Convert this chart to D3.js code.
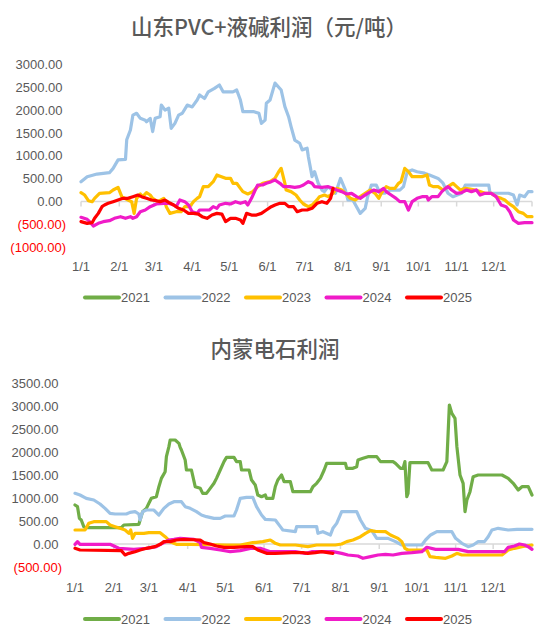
<!DOCTYPE html>
<html><head><meta charset="utf-8">
<script src="https://cdn.jsdelivr.net/npm/d3@7"></script>
<style>
html,body{margin:0;padding:0;background:#fff;}
svg{display:block;}
</style></head>
<body>
<svg id="c" width="550" height="642"></svg>
<script>
// ---------- data ----------
const years = ["2021","2022","2023","2024","2025"];
const colors = ["#70AD47","#9DC3E6","#FFC000","#F01BC8","#FF0000"];
const monthLabels = ["1/1","2/1","3/1","4/1","5/1","6/1","7/1","8/1","9/1","10/1","11/1","12/1"];
const monthDays = [0,31,59,90,120,151,181,212,243,273,304,334];
const title1 = "山东PVC+液碱利润（元/吨）";
const title2 = "内蒙电石利润";
const yTicks1 = [3000,2500,2000,1500,1000,500,0,-500,-1000];
const yTicks2 = [3500,3000,2500,2000,1500,1000,500,0,-500];

// [day of year, value]
const sd2021 = [];
const sd2022 = [[0,430],[5,540],[13,600],[23,630],[26,725],[30,910],[36,920],[37,1350],[40,1565],[42,1890],[45,1930],[48,1820],[52,1780],[53,1745],[56,1820],[58,1530],[60,1820],[64,1855],[65,2110],[68,2000],[71,2040],[73,1600],[76,1710],[79,1890],[82,1930],[86,2110],[90,2070],[94,2220],[96,2330],[100,2255],[103,2400],[108,2475],[112,2550],[115,2400],[123,2400],[126,2440],[129,2220],[131,1965],[140,1965],[144,1930],[146,1710],[149,1780],[150,2150],[153,2220],[157,2590],[162,2440],[165,2075],[168,1855],[170,1640],[173,1345],[177,1275],[179,1130],[183,1165],[184,980],[187,545],[189,655],[192,400],[195,250],[197,215],[200,325],[206,180],[210,505],[214,250],[216,35],[220,35],[223,-115],[226,-260],[230,-150],[232,105],[235,360],[239,360],[242,180],[246,180],[250,250],[258,250],[261,325],[264,650],[268,690],[272,650],[278,620],[282,580],[289,505],[293,400],[297,180],[301,105],[308,180],[311,360],[330,360],[331,180],[346,180],[350,140],[353,-75],[355,140],[359,105],[362,215],[365,215]];
const sd2023 = [[0,193],[3,142],[6,18],[9,-4],[11,69],[15,179],[23,193],[26,252],[30,310],[33,106],[38,33],[41,-4],[43,-260],[45,69],[48,164],[50,106],[53,193],[56,142],[58,69],[62,-4],[67,69],[69,-113],[72,-260],[77,-223],[81,-223],[84,-113],[88,-113],[91,-4],[94,69],[96,106],[99,325],[103,325],[107,434],[110,580],[112,560],[117,507],[121,507],[123,398],[126,398],[129,288],[131,216],[135,164],[139,216],[143,325],[147,398],[153,434],[157,507],[160,653],[162,726],[165,398],[166,252],[170,216],[174,142],[177,33],[180,-55],[184,-113],[187,-77],[191,33],[193,106],[197,142],[200,106],[204,179],[207,288],[211,252],[214,179],[218,69],[222,33],[226,106],[230,179],[234,252],[238,179],[241,69],[243,179],[247,325],[250,288],[254,288],[257,398],[259,434],[262,726],[265,653],[268,543],[276,543],[280,580],[282,361],[285,325],[289,325],[293,252],[297,325],[301,398],[304,325],[307,252],[311,288],[315,270],[319,252],[323,216],[327,179],[332,179],[336,106],[340,69],[343,33],[346,-40],[350,-113],[354,-223],[358,-260],[361,-332],[365,-332]];
const sd2024 = [[0,-346],[5,-390],[7,-441],[10,-536],[14,-478],[18,-441],[23,-420],[27,-368],[32,-332],[36,-368],[40,-332],[42,-368],[45,-332],[48,-223],[52,-186],[56,-113],[61,-55],[67,-40],[71,-40],[75,-77],[77,-113],[80,33],[84,-4],[87,-77],[90,-223],[94,-260],[96,-186],[104,-186],[107,-113],[110,-150],[112,-77],[117,-40],[121,-55],[125,-4],[129,-40],[133,-4],[135,-77],[138,69],[141,252],[143,361],[147,361],[150,398],[154,434],[157,471],[161,398],[164,325],[169,325],[173,310],[177,325],[180,361],[184,434],[187,398],[189,325],[195,310],[200,325],[204,288],[207,252],[211,216],[215,164],[219,179],[223,106],[226,69],[228,106],[232,179],[237,252],[241,216],[245,288],[247,216],[251,142],[255,69],[258,-4],[262,-4],[265,-186],[268,-4],[272,69],[276,106],[280,106],[281,33],[284,106],[289,106],[292,216],[295,288],[297,325],[300,252],[304,179],[308,193],[312,252],[316,216],[320,252],[323,142],[327,179],[332,179],[336,106],[340,-77],[344,-113],[347,-223],[350,-405],[354,-478],[359,-464],[365,-464]];
const sd2025 = [[0,-441],[5,-478],[9,-464],[11,-368],[14,-260],[17,-113],[19,-77],[22,-40],[26,-4],[30,33],[34,69],[38,69],[42,106],[46,142],[49,106],[53,69],[57,33],[61,18],[64,-4],[68,33],[71,-20],[75,-77],[79,-150],[83,-186],[87,-260],[91,-260],[95,-275],[98,-332],[102,-368],[106,-296],[110,-260],[114,-275],[117,-441],[121,-368],[125,-368],[129,-405],[131,-478],[134,-260],[138,-296],[142,-296],[146,-260],[150,-186],[154,-113],[157,-77],[161,-40],[165,-40],[168,-113],[172,-113],[175,-223],[179,-186],[183,-186],[187,-150],[191,-40],[195,-4],[199,-40],[202,69],[204,288]];

const nm2021 = [[0,848],[2,812],[3.5,558],[5,522],[7,377],[9,355],[37,355],[39,413],[51,428],[52,522],[54,703],[57,775],[59,884],[61,993],[65,1029],[67,1246],[69,1427],[72,1572],[73,1898],[75,2116],[76,2261],[80,2261],[83,2188],[84,2101],[85,2043],[88,1826],[89,1609],[93,1609],[96,1246],[100,1210],[102,1101],[105,1101],[108,1210],[111,1319],[113,1427],[116,1609],[119,1790],[121,1884],[127,1884],[129,1790],[132,1790],[133,1609],[139,1609],[141,1391],[144,1282],[146,1065],[149,1029],[152,1065],[153,993],[158,993],[160,1250],[162,1391],[165,1500],[167,1355],[172,1355],[174,1137],[188,1137],[190,1246],[193,1319],[196,1427],[199,1609],[201,1754],[216,1754],[217,1645],[222,1645],[225,1680],[226,1826],[230,1862],[234,1899],[241,1899],[244,1790],[254,1790],[256,1754],[260,1645],[262,1645],[263.5,1790],[265,1029],[266,1100],[267.5,1768],[282,1768],[285,1609],[294,1609],[297,1790],[299,3022],[301,2840],[303.5,2732],[305,2116],[307.5,1500],[310,1319],[311.5,703],[313,957],[315.5,1137],[318,1464],[322,1500],[341,1500],[346,1427],[350,1319],[354,1174],[357,1246],[362,1246],[365,1065]];
const nm2022 = [[0,1101],[4,1065],[9,993],[15,957],[20,870],[24,775],[28,667],[32,652],[41,652],[44,688],[48,703],[51,652],[52,522],[54,703],[57,739],[63,739],[67,630],[71,775],[75,870],[79,920],[85,920],[88,812],[92,775],[97,703],[101,630],[105,594],[111,558],[116,558],[120,609],[127,609],[129,739],[132,993],[137,1015],[142,1015],[145,812],[149,630],[152,536],[160,522],[164,377],[166,304],[176,268],[177,377],[193,377],[194,232],[198,268],[204,196],[206,341],[209,449],[213,703],[225,703],[228,522],[232,341],[237,290],[241,123],[250,123],[256,51],[261,-22],[277,-22],[280,87],[284,196],[289,268],[301,268],[304,123],[309,15],[314,-58],[318,-22],[322,51],[327,51],[330,159],[333,304],[338,341],[346,304],[353,319],[365,319]];
const nm2023 = [[0,304],[8,304],[11,449],[15,486],[25,486],[28,413],[32,377],[36,341],[40,304],[43,232],[44.5,304],[46,123],[48,232],[55,232],[59,246],[68,246],[72,159],[76,51],[81,-7],[92,-7],[121,-22],[132,-22],[142,29],[150,51],[156,87],[158,51],[160,15],[164,-22],[176,-22],[186,-58],[193,-22],[208,-22],[213,0],[217,51],[222,87],[228,159],[232,232],[236,290],[240,275],[248,268],[252,196],[258,123],[261,51],[263.5,-94],[266,-130],[281,-130],[283.5,-275],[288,-290],[296,-311],[301,-261],[305,-203],[309,-239],[341,-239],[346,-130],[351,-94],[357,-58],[365,-22]];
const nm2024 = [[0,-7],[2,51],[4,-7],[28,-7],[35,-94],[47,-116],[57,-94],[65,-58],[71,29],[75,87],[79,101],[84,123],[95,101],[100,29],[101,-72],[108,-94],[116,-130],[124,-167],[132,-145],[140,-94],[148,-94],[156,-167],[176,-167],[184,-203],[189,-167],[206,-167],[213,-203],[218,-239],[226,-261],[230,-311],[236,-275],[242,-239],[248,-225],[254,-239],[261,-203],[269,-188],[277,-167],[281,-72],[288,-116],[306,-116],[314,-167],[343,-167],[346,-72],[351,-43],[355,0],[359,-22],[362,-58],[365,-116]];
const nm2025 = [[0,-94],[4,-130],[37,-145],[40,-239],[43,-203],[48,-167],[52,-130],[57,-94],[64,-58],[68,-7],[71,51],[76,51],[81,87],[87,101],[100,87],[103,29],[108,0],[113,-43],[119,-72],[127,-72],[137,-58],[142,-58],[146,-130],[153,-203],[160,-203],[173,-188],[182,-188],[186,-203],[192,-188],[197,-167],[202,-188],[206,-203]];

// ---------- drawing ----------
const svg = d3.select("#c");
const textColor = "#595959";
const FONT = "'Liberation Sans', Arial, sans-serif";
const fmt = v => v < 0 ? "(" + Math.abs(v).toFixed(2) + ")" : v.toFixed(2);

function drawChart(cfg) {
  const g = svg.append("g");
  const x = d3.scaleLinear().domain([0, 365]).range([cfg.x0, cfg.x1]);
  const y = d3.scaleLinear().domain([cfg.yMin, cfg.yMax]).range([cfg.yBottom, cfg.yTop]);

  g.append("text").attr("x", cfg.titleX).attr("y", cfg.titleY)
    .attr("text-anchor", "middle").attr("dominant-baseline", "central")
    .attr("font-family", "'Noto Sans CJK SC', sans-serif").attr("font-size", 21.5)
    .attr("font-weight", 500)
    .attr("fill", textColor).text(cfg.title);

  // y labels
  g.selectAll(".yl").data(cfg.yTicks).enter().append("text")
    .attr("x", d => d < 0 ? cfg.labelRight : cfg.labelRight - 3.5)
    .attr("y", d => y(d)).attr("dy", "0.35em")
    .attr("text-anchor", "end").attr("font-family", FONT).attr("font-size", 13)
    .attr("fill", d => d < 0 ? "#FF0000" : textColor).text(fmt);

  // zero axis line & ticks
  g.append("line").attr("x1", x(0)).attr("x2", x(365)).attr("y1", y(0)).attr("y2", y(0))
    .attr("stroke", "#D9D9D9").attr("stroke-width", 1.5);
  g.selectAll(".tk").data(monthDays.concat([365])).enter().append("line")
    .attr("x1", d => x(d)).attr("x2", d => x(d)).attr("y1", y(0)).attr("y2", y(0) + 5)
    .attr("stroke", "#D9D9D9").attr("stroke-width", 1.5);

  // x labels
  g.selectAll(".xl").data(monthLabels).enter().append("text")
    .attr("x", (d, i) => x(monthDays[i])).attr("y", cfg.xLabelY).attr("dy", "0.35em")
    .attr("text-anchor", "middle").attr("font-family", FONT).attr("font-size", 13)
    .attr("fill", textColor).text(d => d);

  // lines
  const line = d3.line().x(d => x(d[0])).y(d => y(d[1]));
  cfg.series.forEach((s, i) => {
    if (!s.length) return;
    g.append("path").datum(s).attr("d", line).attr("fill", "none")
      .attr("stroke", colors[i]).attr("stroke-width", 3.2)
      .attr("stroke-linejoin", "round").attr("stroke-linecap", "round");
  });

  // legend
  const lg = g.selectAll(".lg").data(years).enter().append("g")
    .attr("transform", (d, i) => `translate(${85 + i * 80.5},${cfg.legendY})`);
  lg.append("line").attr("x1", 0).attr("x2", 34).attr("y1", 0).attr("y2", 0)
    .attr("stroke", (d, i) => colors[i]).attr("stroke-width", 4).attr("stroke-linecap", "round");
  lg.append("text").attr("x", 36).attr("y", 0).attr("dy", "0.35em")
    .attr("font-family", FONT).attr("font-size", 13).attr("fill", textColor).text(d => d);
}

drawChart({
  title: title1, titleX: 269, titleY: 25,
  x0: 81, x1: 532, yMin: -1000, yMax: 3000, yBottom: 247.2, yTop: 64.4,
  yTicks: yTicks1, labelRight: 66, xLabelY: 266, legendY: 297.5,
  series: [sd2021, sd2022, sd2023, sd2024, sd2025]
});
drawChart({
  title: title2, titleX: 275, titleY: 347.5,
  x0: 75, x1: 532, yMin: -500, yMax: 3500, yBottom: 567, yTop: 383,
  yTicks: yTicks2, labelRight: 62, xLabelY: 587, legendY: 619,
  series: [nm2021, nm2022, nm2023, nm2024, nm2025]
});
</script>
</body></html>
